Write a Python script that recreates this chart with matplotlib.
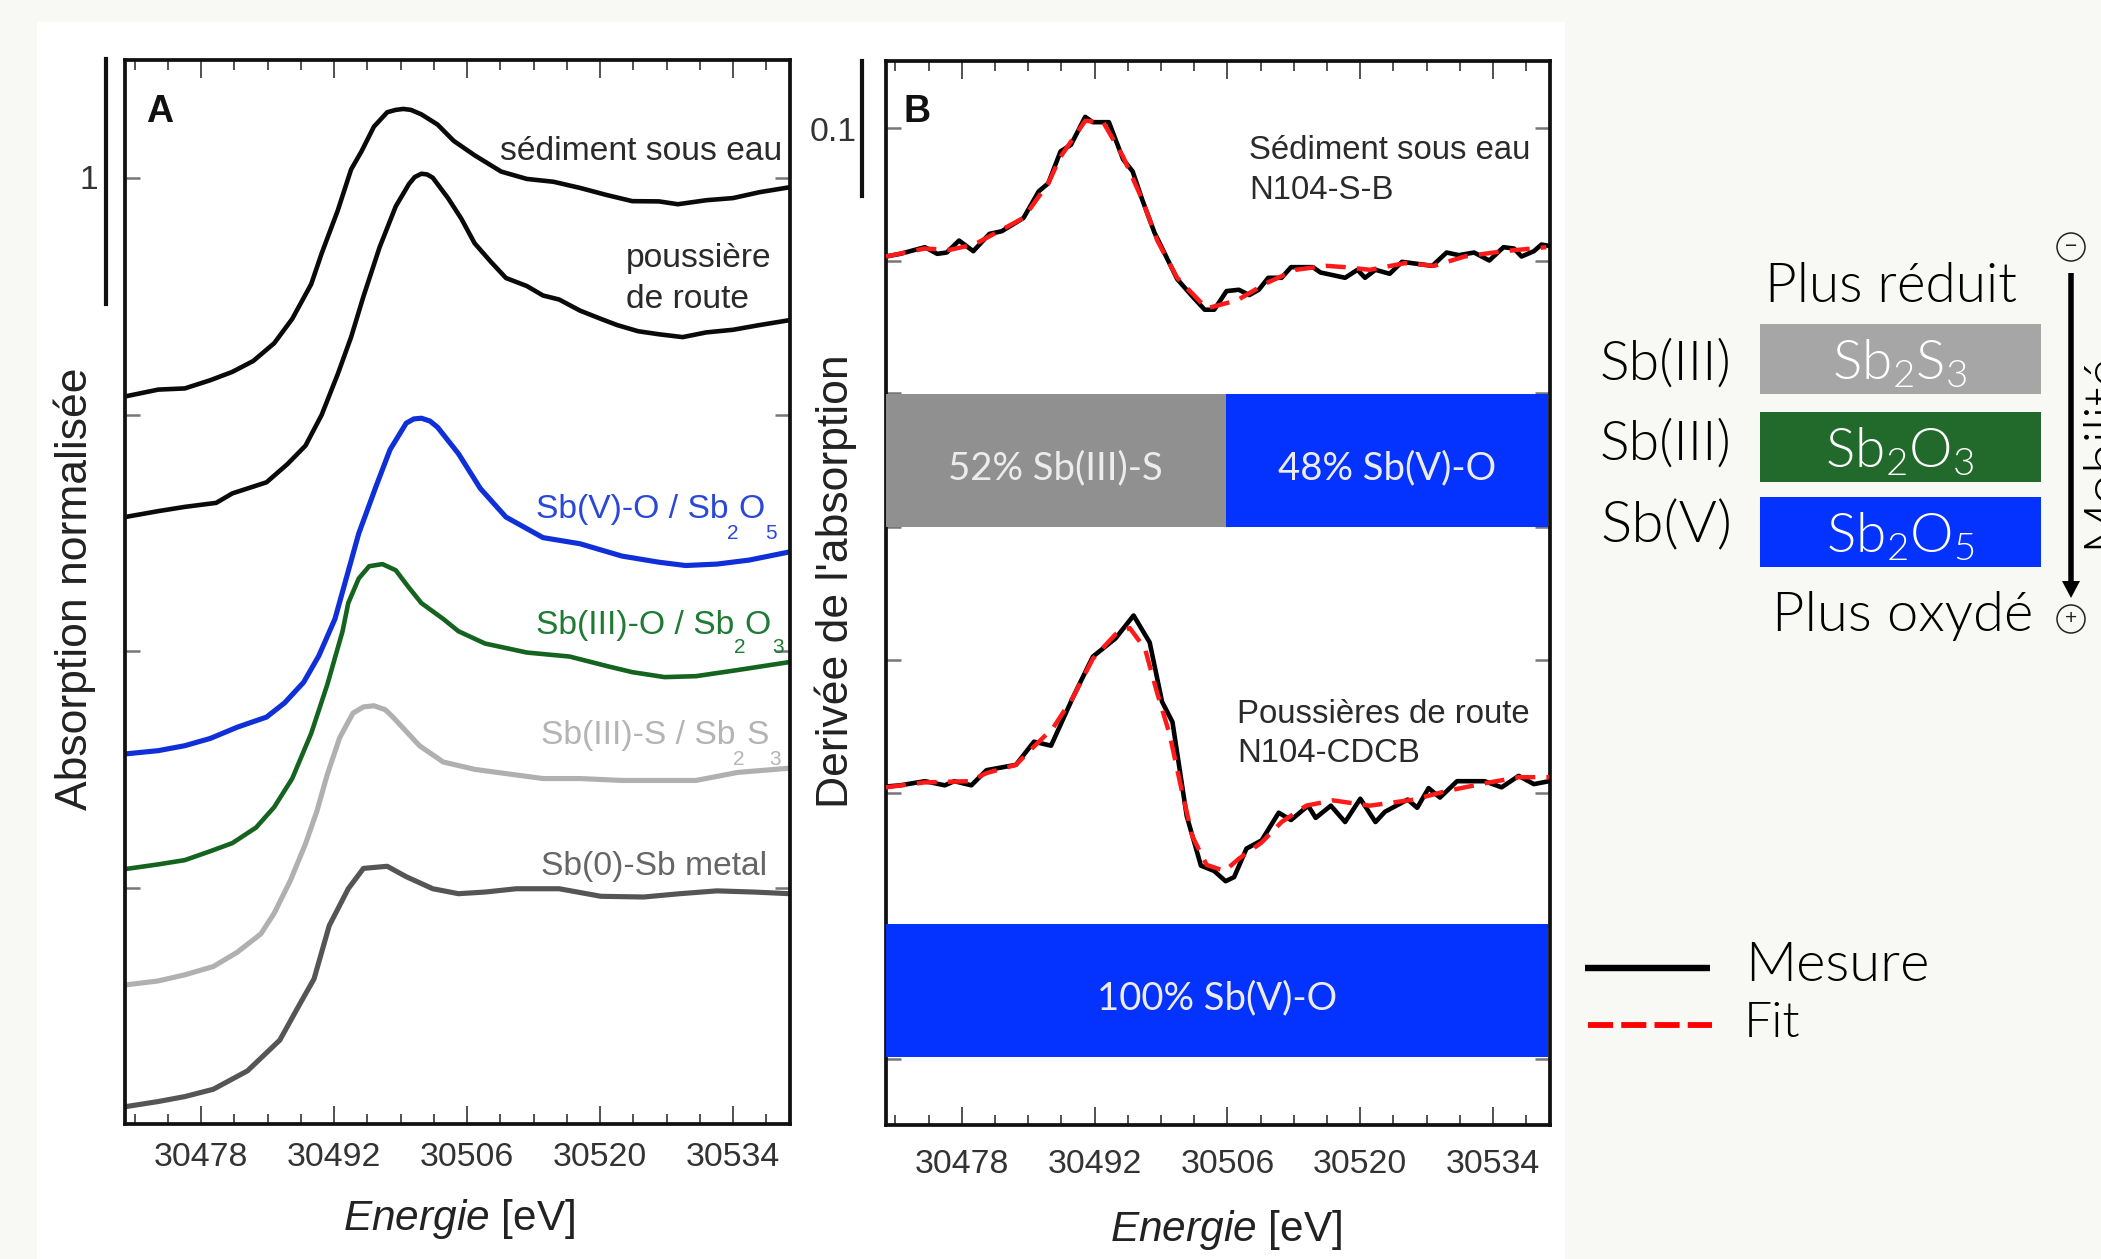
import numpy as np
import matplotlib
matplotlib.use("Agg")
import matplotlib.pyplot as plt
from matplotlib.lines import Line2D
from matplotlib.patches import Rectangle, Circle, FancyArrow

W, H = 2101, 1259

# ---- panel A : normalised absorption ----
e_sed = [30470.0, 30473.5, 30476.3, 30479.0, 30481.3, 30483.5, 30485.7, 30487.6, 30489.6, 30490.7, 30492.4, 30493.8,
         30494.9, 30496.2, 30496.8, 30497.6, 30498.5, 30499.3, 30500.1, 30501.2, 30502.9, 30504.6, 30506.8, 30509.6, 30512.3, 30515.1, 30517.9,
         30520.7, 30523.4, 30526.2, 30528.2, 30531.2, 30534.0, 30536.8, 30540.0]
y_sed = [3.077, 3.106, 3.111, 3.146, 3.181, 3.227, 3.302, 3.405, 3.552, 3.682, 3.864, 4.037,
         4.114, 4.218, 4.244, 4.279, 4.289, 4.293, 4.289, 4.270, 4.227, 4.158, 4.097, 4.028, 3.997, 3.985, 3.959,
         3.929, 3.903, 3.902, 3.890, 3.907, 3.916, 3.941, 3.962]

e_pou = [30470.0, 30473.5, 30476.3, 30479.6, 30481.3, 30484.9, 30487.1, 30489.0, 30490.7, 30492.4, 30493.8, 30495.1,
         30496.8, 30498.5, 30499.9, 30500.5, 30501.2, 30501.8, 30502.4, 30504.0, 30505.4, 30506.8, 30508.5, 30510.1, 30512.3, 30514.0,
         30515.7, 30517.9, 30520.1, 30521.8, 30524.0, 30526.2, 30528.7, 30531.2, 30534.0, 30536.8, 30540.0]
y_pou = [2.567, 2.592, 2.610, 2.627, 2.667, 2.714, 2.791, 2.869, 2.999, 3.172, 3.328, 3.500,
         3.708, 3.881, 3.976, 4.005, 4.019, 4.016, 4.002, 3.916, 3.829, 3.725, 3.647, 3.578, 3.544, 3.504,
         3.487, 3.440, 3.405, 3.379, 3.353, 3.340, 3.328, 3.348, 3.359, 3.379, 3.400]

e_v = [30470.0, 30473.5, 30476.3, 30479.0, 30481.8, 30484.9, 30486.8, 30488.8, 30490.4, 30492.1, 30494.6, 30496.5,
       30497.9, 30499.6, 30500.4, 30501.2, 30502.1, 30502.9, 30505.1, 30507.4, 30510.1, 30514.0, 30517.9, 30522.3, 30526.2, 30529.0,
       30532.3, 30535.7, 30540.0]
y_v = [1.565, 1.579, 1.600, 1.631, 1.678, 1.721, 1.781, 1.868, 1.980, 2.136, 2.497, 2.705,
       2.852, 2.964, 2.982, 2.985, 2.973, 2.947, 2.835, 2.688, 2.567, 2.480, 2.454, 2.402, 2.376, 2.362,
       2.368, 2.385, 2.420]

e_iii_o = [30470.0, 30473.5, 30476.3, 30479.0, 30481.3, 30483.8, 30485.7, 30487.6, 30489.6, 30491.3, 30492.9, 30493.5,
           30494.6, 30495.7, 30497.1, 30498.5, 30499.8, 30501.2, 30503.5, 30505.1, 30507.9, 30512.3, 30516.8, 30520.7, 30523.4, 30526.8,
           30530.1, 30534.5, 30540.0]
y_iii_o = [1.078, 1.098, 1.116, 1.154, 1.188, 1.254, 1.340, 1.461, 1.652, 1.859, 2.084, 2.203,
           2.307, 2.359, 2.368, 2.342, 2.273, 2.203, 2.136, 2.084, 2.032, 1.994, 1.977, 1.937, 1.911, 1.890,
           1.894, 1.920, 1.954]

e_iii_s = [30470.0, 30473.5, 30476.3, 30479.3, 30481.8, 30484.3, 30485.7, 30487.4, 30489.0, 30490.2, 30491.3, 30492.6,
           30494.0, 30495.1, 30496.2, 30497.4, 30498.2, 30501.0, 30503.5, 30506.8, 30510.1, 30514.0, 30517.9, 30522.3, 30526.2, 30530.1,
           30534.5, 30540.0]
y_iii_s = [0.588, 0.605, 0.631, 0.666, 0.726, 0.804, 0.891, 1.029, 1.185, 1.323, 1.479, 1.634,
           1.738, 1.764, 1.769, 1.752, 1.721, 1.600, 1.531, 1.500, 1.482, 1.461, 1.461, 1.453, 1.453, 1.453,
           1.487, 1.505]

e_metal = [30470.0, 30473.5, 30476.3, 30479.3, 30482.9, 30486.3, 30488.2, 30489.9, 30491.5, 30493.5, 30495.1, 30497.6,
           30499.6, 30502.4, 30505.1, 30507.9, 30511.2, 30515.7, 30520.1, 30524.6, 30528.4, 30532.3, 30536.2, 30540.0]
y_metal = [0.073, 0.095, 0.116, 0.147, 0.225, 0.355, 0.493, 0.614, 0.839, 0.995, 1.081, 1.090,
           1.046, 0.995, 0.974, 0.981, 0.995, 0.995, 0.963, 0.960, 0.974, 0.986, 0.981, 0.974]

# ---- panel B : derivative, measured and fit ----
e_mes1 = [30470.0, 30471.5, 30474.1, 30475.4, 30476.4, 30477.7, 30479.2, 30480.9, 30482.2, 30484.5, 30486.1, 30487.1,
          30488.4, 30489.5, 30491.0, 30491.8, 30493.5, 30495.0, 30496.0, 30497.0, 30498.3, 30500.7, 30502.3, 30503.6,
          30504.6, 30505.9, 30507.2, 30508.3, 30509.3, 30510.3, 30511.7, 30512.7, 30515.0, 30515.8, 30518.4, 30519.7,
          30520.5, 30521.6, 30523.1, 30524.4, 30527.6, 30529.1, 30530.4, 30532.0, 30533.6, 30535.1, 30536.2, 30537.0,
          30538.3, 30539.1, 30539.9]
y_mes1 = [0.653, 0.655, 0.660, 0.655, 0.656, 0.665, 0.657, 0.670, 0.672, 0.682, 0.702, 0.708,
          0.732, 0.737, 0.758, 0.754, 0.754, 0.726, 0.717, 0.696, 0.671, 0.636, 0.623, 0.613,
          0.613, 0.627, 0.628, 0.624, 0.628, 0.637, 0.637, 0.645, 0.645, 0.641, 0.637, 0.643,
          0.637, 0.643, 0.640, 0.649, 0.646, 0.656, 0.654, 0.656, 0.650, 0.660, 0.659, 0.653,
          0.657, 0.662, 0.661]

e_fit1 = [30470.0, 30474.1, 30476.7, 30479.3, 30481.9, 30484.5, 30487.1, 30488.4, 30491.0, 30492.9, 30495.0, 30497.0,
          30498.6, 30500.7, 30503.8, 30507.0, 30510.1, 30513.2, 30516.4, 30518.4, 30521.0, 30524.7, 30527.8, 30531.0,
          30535.1, 30539.6]
y_fit1 = [0.653, 0.659, 0.658, 0.662, 0.672, 0.682, 0.708, 0.728, 0.755, 0.754, 0.728, 0.696,
          0.665, 0.637, 0.614, 0.620, 0.633, 0.643, 0.646, 0.645, 0.643, 0.648, 0.646, 0.653,
          0.657, 0.660]

e_mes2 = [30470.0, 30471.5, 30474.1, 30476.2, 30477.2, 30479.0, 30480.6, 30483.7, 30485.6, 30487.4, 30489.7, 30491.8,
          30494.2, 30496.1, 30497.8, 30499.1, 30500.2, 30501.7, 30503.2, 30504.6, 30505.8, 30506.7, 30508.0, 30509.6,
          30511.4, 30512.7, 30514.5, 30515.3, 30516.9, 30518.4, 30520.0, 30521.6, 30522.6, 30525.0, 30526.0, 30527.2,
          30528.4, 30530.2, 30533.1, 30534.9, 30536.7, 30538.3, 30539.9]
y_mes2 = [0.2545, 0.2554, 0.2585, 0.2554, 0.2585, 0.2554, 0.2668, 0.2708, 0.2882, 0.2852, 0.3214, 0.3521,
          0.3659, 0.3831, 0.3628, 0.3183, 0.3030, 0.2324, 0.1950, 0.1910, 0.1833, 0.1864, 0.2078, 0.2140,
          0.2348, 0.2293, 0.2401, 0.2309, 0.2401, 0.2278, 0.2453, 0.2278, 0.2355, 0.2447, 0.2385, 0.2533,
          0.2462, 0.2585, 0.2585, 0.2539, 0.2625, 0.2563, 0.2585]

e_fit2 = [30470.0, 30474.1, 30478.8, 30480.6, 30483.7, 30485.6, 30487.6, 30489.7, 30491.8, 30494.2, 30495.7, 30497.3,
          30498.6, 30499.9, 30501.2, 30502.3, 30503.8, 30505.7, 30507.2, 30509.6, 30511.7, 30514.3, 30517.1, 30521.0,
          30525.7, 30528.9, 30533.1, 30536.7, 30539.9]
y_fit2 = [0.2539, 0.2576, 0.2585, 0.2646, 0.2708, 0.2846, 0.2984, 0.3214, 0.3505, 0.3690, 0.3736, 0.3582,
          0.3245, 0.2938, 0.2508, 0.2170, 0.1956, 0.1910, 0.2002, 0.2124, 0.2278, 0.2401, 0.2441, 0.2401,
          0.2447, 0.2508, 0.2569, 0.2615, 0.2615]

# composition bars : (left, right, bottom, top, colour, label)
bar_rows = [(30470.0, 30505.8, 0.45, 0.55, "#909090", "52% Sb(III)-S"),
            (30505.8, 30539.8, 0.45, 0.55, "#0433ff", "48% Sb(V)-O"),
            (30470.0, 30539.8, 0.051, 0.151, "#0433ff", "100% Sb(V)-O")]

tick_labels = ["30478", "30492", "30506", "30520", "30534"]
major_ticks = [30478, 30492, 30506, 30520, 30534]
minor_ticks = np.arange(30471, 30540, 3.5)

SANS = "Liberation Sans"
GEO = ["Lato", "DejaVu Sans"]
plt.rcParams["font.family"] = [SANS, "DejaVu Sans"]
plt.rcParams["mathtext.fontset"] = "custom"
plt.rcParams["mathtext.it"] = "Liberation Sans:italic"
plt.rcParams["mathtext.rm"] = "Liberation Sans"
plt.rcParams["mathtext.default"] = "regular"


def fx(x):
    return x / W


def fy(y):
    return 1 - y / H


def label(x, y, s, size=24.2, color="#2a2a2a", **kw):
    # position given in picture pixels, baseline
    kw.setdefault("va", "baseline")
    kw.setdefault("ha", "left")
    return fig.text(fx(x), fy(y), s, fontsize=size, color=color, **kw)


def make_axes(left, right, top, bottom, ylim, yticks, pad):
    ax = fig.add_axes([fx(left), fy(bottom), (right - left) / W, (bottom - top) / H])
    ax.set_xlim(30470, 30540)
    ax.set_ylim(*ylim)
    ax.set_xticks(major_ticks)
    ax.set_xticklabels(tick_labels, fontsize=24.4, color="#333333")
    ax.set_xticks(minor_ticks, minor=True)
    ax.set_yticks(yticks)
    ax.set_yticklabels([])
    ax.tick_params(axis="x", which="major", direction="in", top=True, length=13, width=1.2, color="#333333", pad=pad)
    ax.tick_params(axis="x", which="minor", direction="in", top=True, length=7, width=1.2, color="#333333")
    ax.tick_params(axis="y", direction="in", right=True, length=11, width=1.8, color="#777777")
    for s in ax.spines.values():
        s.set_linewidth(2.7)
        s.set_color("#111111")
    return ax


fig = plt.figure(figsize=(W / 100, H / 100), dpi=100, facecolor="#f8f9f5")
fig.patches.append(Rectangle((fx(37), 0), (1565 - 37) / W, fy(22), transform=fig.transFigure,
                             facecolor="white", edgecolor="none", zorder=-5))

ax_a = make_axes(125, 790, 60, 1124, (0, 4.5), [1, 2, 3, 4], 13)
ax_a.plot(e_sed, y_sed, color="#0a0a0a", lw=3.3)
ax_a.plot(e_pou, y_pou, color="#0a0a0a", lw=3.3)
ax_a.plot(e_v, y_v, color="#0f2fd8", lw=3.7)
ax_a.plot(e_iii_o, y_iii_o, color="#14631f", lw=3.3)
ax_a.plot(e_iii_s, y_iii_s, color="#b0b0b0", lw=3.7)
ax_a.plot(e_metal, y_metal, color="#555555", lw=3.7)

ax_b = make_axes(886, 1550, 61, 1125, (0, 0.8), [0.05, 0.15, 0.25, 0.35, 0.45, 0.55, 0.65, 0.75], 17)
for left, right, bottom, top, col, txt in bar_rows:
    ax_b.barh((bottom + top) / 2, right - left, height=top - bottom, left=left, color=col, zorder=3)
    ax_b.text((left + right) / 2, (bottom + top) / 2 - 0.006, txt, color="#ececec", fontsize=27.5, family=GEO,
              ha="center", va="center", zorder=4)
ax_b.plot(e_mes1, y_mes1, color="black", lw=3.3, zorder=5)
ax_b.plot(e_fit1, y_fit1, color="#ff1a1a", lw=3.2, dashes=(4.5, 2.5), zorder=6)
ax_b.plot(e_mes2, y_mes2, color="black", lw=3.3, zorder=5)
ax_b.plot(e_fit2, y_fit2, color="#ff1a1a", lw=3.2, dashes=(4.5, 2.5), zorder=6)

# scale bars
fig.add_artist(Line2D([fx(106), fx(106)], [fy(59), fy(304)], color="#111111", lw=3))
fig.add_artist(Line2D([fx(862), fx(862)], [fy(61), fy(196)], color="#111111", lw=3))
label(80, 189, "1", color="#333333")
label(810, 141, "0.1", color="#333333")

label(146, 122, "A", size=27, fontweight="bold", color="#111111")
label(904, 122, "B", size=27, fontweight="bold", color="#111111")

# panel A labels
label(500, 160, "sédiment sous eau")
label(626, 267, "poussière")
label(626, 308, "de route")
blue_txt, green_txt, lgrey_txt, dgrey_txt = "#2a48d8", "#1f7a34", "#b4b4b4", "#666666"
label(536, 518, "Sb(V)-O / Sb", color=blue_txt)
label(738, 518, "O", color=blue_txt)
label(727, 539, "2", size=15, color=blue_txt)
label(765, 539, "5", size=15, color=blue_txt)
label(536, 634, "Sb(III)-O / Sb", color=green_txt)
label(744, 634, "O", color=green_txt)
label(734, 653, "2", size=15, color=green_txt)
label(772, 653, "3", size=15, color=green_txt)
label(541, 744, "Sb(III)-S / Sb", color=lgrey_txt)
label(746, 744, "S", color=lgrey_txt)
label(733, 765, "2", size=15, color=lgrey_txt)
label(769, 765, "3", size=15, color=lgrey_txt)
label(541, 875, "Sb(0)-Sb metal", color=dgrey_txt)

# panel B labels
label(1249, 159, "Sédiment sous eau", size=23.7)
label(1249, 199, "N104-S-B", size=23.7)
label(1237, 723, "Poussières de route", size=23.7)
label(1237, 762, "N104-CDCB", size=23.7)

# axis titles
label(459, 1230, r"$\mathit{Energie}$ [eV]", size=30.5, ha="center", color="#222222")
label(1226, 1241, r"$\mathit{Energie}$ [eV]", size=30.5, ha="center", color="#222222")
label(75, 589, "Absorption normalisée", size=32, rotation=90, ha="center", va="center", rotation_mode="anchor", color="#222222")
label(836, 581, "Derivée de l'absorption", size=32, rotation=90, ha="center", va="center", rotation_mode="anchor", color="#222222")

# right part : oxidation scale
for top, bottom, col, txt in [(324, 394, "#a6a6a6", "Sb$_2$S$_3$"), (412, 482, "#216a2c", "Sb$_2$O$_3$"), (497, 567, "#0433ff", "Sb$_2$O$_5$")]:
    fig.patches.append(Rectangle((fx(1760), fy(bottom)), 281 / W, (bottom - top) / H, transform=fig.transFigure,
                                 facecolor=col, edgecolor="none"))
    label(1900, bottom - 14, txt, size=39.5, color="white", family=GEO, fontweight=300, ha="center")

label(1600, 380, "Sb(III)", size=40, color="black", family=GEO, fontweight=300)
label(1600, 460, "Sb(III)", size=40, color="black", family=GEO, fontweight=300)
label(1600, 542, "Sb(V)", size=42, color="black", family=GEO, fontweight=300)
label(1765, 302, "Plus réduit", size=39.5, color="black", family=GEO, fontweight=300)
label(1772, 631, "Plus oxydé", size=40.5, color="black", family=GEO, fontweight=300)
label(2118, 548, "Mobilité", size=40, color="black", family=GEO, fontweight=300, rotation=90, va="baseline", ha="left", rotation_mode="anchor")

ax_sym = fig.add_axes([0, 0, 1, 1], facecolor="none")
ax_sym.set_xlim(0, W)
ax_sym.set_ylim(H, 0)
ax_sym.axis("off")
ax_sym.add_patch(FancyArrow(2071, 273, 0, 325, width=5.5, head_width=18, head_length=17,
                            length_includes_head=True, color="black", lw=0))
ax_sym.add_patch(Circle((2071, 247), 14, facecolor="none", edgecolor="#222222", lw=1.1))
ax_sym.add_patch(Circle((2071, 619), 14, facecolor="none", edgecolor="#222222", lw=1.1))
ax_sym.text(2071, 246, "−", fontsize=15, ha="center", va="center", color="#222222")
ax_sym.text(2071, 618, "+", fontsize=15, ha="center", va="center", color="#222222")

# legend
fig.add_artist(Line2D([fx(1585), fx(1710)], [fy(968), fy(968)], color="black", lw=4.6, solid_capstyle="butt"))
fig.add_artist(Line2D([fx(1588), fx(1712)], [fy(1025), fy(1025)], color="#ff0000", lw=4.2, dashes=(4.3, 1.4), dash_capstyle="butt"))
label(1745, 981, "Mesure", size=40.5, color="black", family=GEO, fontweight=300)
label(1744, 1037, "Fit", size=36, color="black", family=GEO, fontweight=300)

fig.savefig("out.png", dpi=100, facecolor=fig.get_facecolor())
